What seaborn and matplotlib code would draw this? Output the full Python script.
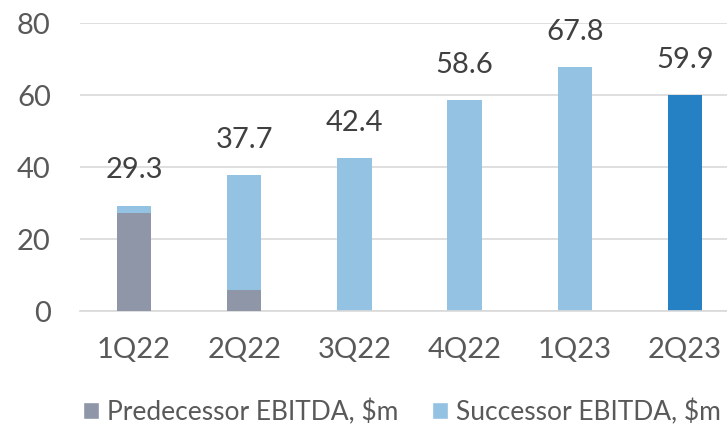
import matplotlib
matplotlib.use("Agg")
import matplotlib.pyplot as plt
import seaborn as sns
import pandas as pd
from matplotlib.patches import Patch

quarters = ["1Q22", "2Q22", "3Q22", "4Q22", "1Q23", "2Q23"]
predecessor = [27.3, 5.8, 0, 0, 0, 0]
totals = [29.3, 37.7, 42.4, 58.6, 67.8, 59.9]
legend_labels = ["Predecessor EBITDA, $m", "Successor EBITDA, $m"]

sns.set_theme(style="white")
plt.rcParams["font.family"] = ["Lato", "DejaVu Sans"]

gray = "#8E96A8"
light = "#93C2E3"
dark = "#2581C4"
txt = "#595959"

df = pd.DataFrame({"quarter": quarters, "total": totals, "pred": predecessor})

fig = plt.figure(figsize=(7.27, 4.32), dpi=100)
ax = fig.add_axes([80 / 727, 1 - 311 / 432, (727 - 80) / 727, (311 - 23) / 432])

sns.barplot(data=df, x="quarter", y="total", color=light, width=0.313,
            saturation=1, ax=ax, zorder=2, linewidth=0, edgecolor="none")
for i, p in enumerate(ax.patches):
    if i == len(quarters) - 1:
        p.set_facecolor(dark)
sns.barplot(data=df, x="quarter", y="pred", color=gray, width=0.313,
            saturation=1, ax=ax, zorder=3, linewidth=0, edgecolor="none")

for i, v in enumerate(totals):
    ax.annotate(f"{v:.1f}", (i, v), xytext=(0, 19.5), textcoords="offset points",
                ha="center", va="baseline", fontsize=21, color="#404040")

ax.set_ylim(0, 80)
ax.set_yticks([0, 20, 40, 60, 80])
ax.set_xlim(-0.49, 5.38)
ax.yaxis.grid(True, color="#D9D9D9", linewidth=1.2, zorder=0)
ax.set_axisbelow(True)
for s in ["left", "right", "top"]:
    ax.spines[s].set_visible(False)
ax.spines["bottom"].set_color("#D9D9D9")
ax.spines["bottom"].set_linewidth(1.2)
ax.set_xlabel("")
ax.set_ylabel("")
ax.tick_params(axis="both", length=0, labelsize=21, labelcolor=txt)
ax.tick_params(axis="y", pad=21)
ax.tick_params(axis="x", pad=19)

handles = [Patch(facecolor=gray, label=legend_labels[0]),
           Patch(facecolor=light, label=legend_labels[1])]
fig.legend(handles=handles, loc="center", bbox_to_anchor=(0.553, 1 - 412 / 432),
           ncol=2, frameon=False, fontsize=19, handlelength=0.6, handleheight=0.6,
           handletextpad=0.3, columnspacing=1.3, labelcolor=txt, borderpad=0)

fig.savefig("out.png", dpi=100)
